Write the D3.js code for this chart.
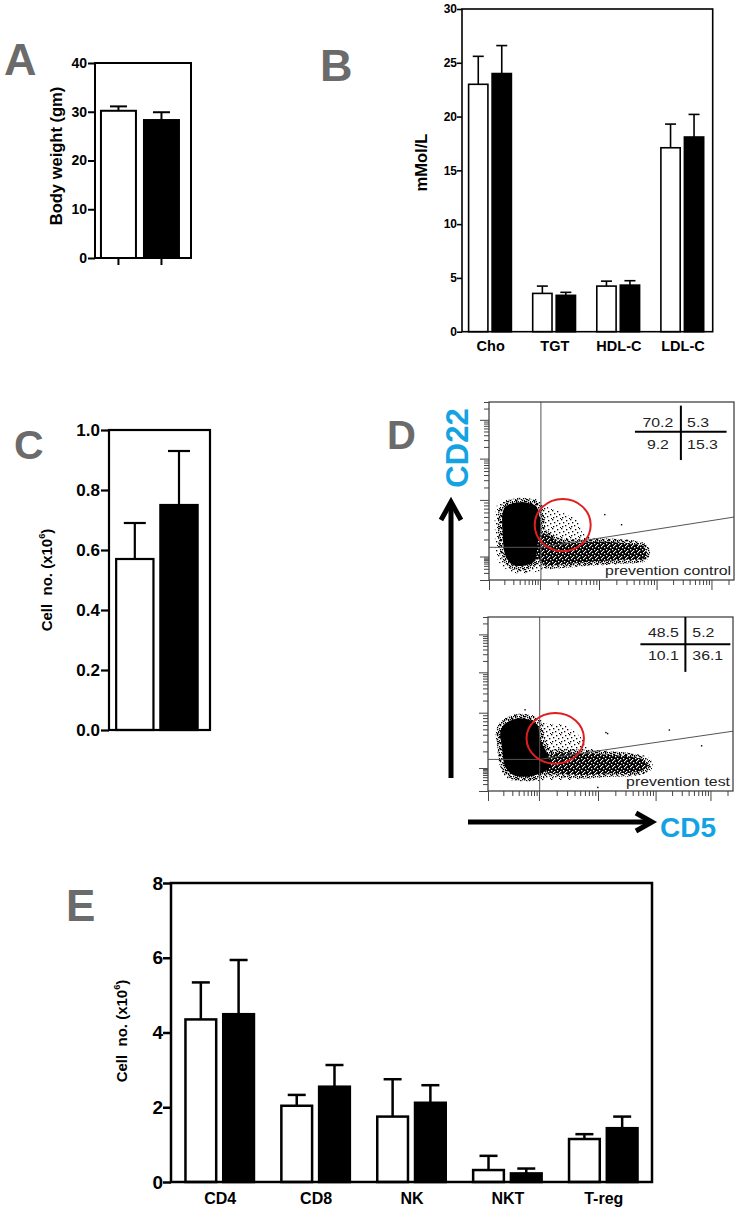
<!DOCTYPE html>
<html>
<head>
<meta charset="utf-8">
<script src="https://cdn.jsdelivr.net/npm/d3@7"></script>
<style>
body { margin: 0; background: #fff; }
svg text { font-family: Arial, "Liberation Sans", Helvetica, sans-serif; }
</style>
</head>
<body>
<script>
// ---- data ----
var groups = ["control", "test"];

// A: body weight
var weightMean = [30.2, 28.3],
    weightErr = [0.9, 1.6],
    weightTicks = [0, 10, 20, 30, 40];

// B: lipids
var lipidCats = ["Cho", "TGT", "HDL-C", "LDL-C"],
    lipidControl = [23.0, 3.56, 4.24, 17.1],
    lipidControlErr = [2.6, 0.68, 0.46, 2.2],
    lipidTest = [24.0, 3.38, 4.33, 18.1],
    lipidTestErr = [2.6, 0.28, 0.41, 2.1],
    lipidTicks = [0, 5, 10, 15, 20, 25, 30];

// C: B1a cell number
var cellMean = [0.57, 0.75],
    cellErr = [0.12, 0.18],
    cellTicks = [0, 0.2, 0.4, 0.6, 0.8, 1.0];

// E: lymphocyte subsets
var subsetCats = ["CD4", "CD8", "NK", "NKT", "T-reg"],
    subsetControl = [4.35, 2.04, 1.75, 0.32, 1.15],
    subsetControlErr = [0.99, 0.29, 1.0, 0.38, 0.13],
    subsetTest = [4.49, 2.55, 2.12, 0.23, 1.44],
    subsetTestErr = [1.45, 0.58, 0.47, 0.13, 0.31],
    subsetTicks = [0, 2, 4, 6, 8];

// D: flow plots, shapes in channel units (0-1024)
var flowXDomain = [1, 10, 100, 1000, 10000, 25000],
    flowXFrac = [0, 0.208, 0.449, 0.684, 0.908, 1],
    flowYDomain = [1, 10, 100, 1000, 10000, 30000],
    flowYFrac = [0, 0.132, 0.45, 0.682, 0.9, 1],
    flowDecades = [1, 10, 100, 1000, 10000],
    flowMinor = [2, 3, 4, 5, 6, 7, 8, 9];

var topCore = [[63,412],[102,441],[158,445],[196,426],[210,374],[216,288],[205,220],[199,150],[190,110],[158,86],[102,86],[71,134],[57,268]],
    topTail = [[220,268],[297,220],[380,215],[450,220],[548,215],[645,192],[659,157],[645,125],[548,115],[436,106],[325,92],[227,92],[200,150]],
    topFringe = [[39,441],[130,464],[199,464],[241,422],[297,393],[367,345],[394,268],[464,230],[576,230],[659,201],[670,153],[659,115],[548,92],[408,80],[297,67],[199,48],[102,42],[39,106],[25,268]],
    topStray = [[481,380],[551,322],[39,215],[150,53]],
    topGate = [217, 188, 362],
    topCircle = [308, 316, 117, 150],
    topQuadLines = [[[802,1003],[802,690]], [[610,853],[993,853]]],
    topQuadText = ["70.2", "5.3", "9.2", "15.3"],
    topQuadPos = [706, 828, 882, 754],
    topName = "prevention control";

var botCore = [[65,388],[121,427],[177,417],[207,388],[219,300],[247,222],[260,143],[219,104],[163,84],[107,94],[72,143],[58,260],[51,339]],
    botTail = [[260,212],[400,222],[511,212],[595,202],[650,182],[665,143],[623,113],[511,104],[400,94],[288,104],[247,113]],
    botFringe = [[44,378],[107,447],[184,447],[247,398],[316,388],[386,319],[414,260],[469,241],[595,222],[678,192],[686,133],[637,94],[469,84],[344,65],[247,65],[163,55],[79,75],[51,143],[38,300]],
    botStray = [[152,482],[490,348],[497,342],[755,363],[890,270],[456,25]],
    botGate = [216, 186, 352],
    botCircle = [281, 310, 120, 149],
    botQuadLines = [[[825,1024],[825,701]], [[637,864],[1013,864]]],
    botQuadText = ["48.5", "5.2", "10.1", "36.1"],
    botQuadPos = [733, 854, 905, 770],
    botName = "prevention test";

// ---- drawing ----
var svg = d3.select("body").append("svg")
    .attr("width", 739)
    .attr("height", 1210);

function panelLetter(t, x, y, size){
    svg.append("text")
        .attr("x", x).attr("y", y)
        .attr("font-size", size)
        .attr("font-weight", "bold")
        .attr("fill", "#6b6b6b")
        .text(t);
}

function yLabel(g, x, y, size, main, sup){
    var t = g.append("text")
        .attr("transform", "translate(" + x + "," + y + ") rotate(-90)")
        .attr("text-anchor", "middle")
        .attr("font-size", size)
        .attr("font-weight", "bold")
        .style("white-space", "pre");
    t.append("tspan").text(main);
    if (sup){
        t.append("tspan").attr("font-size", size * 0.62).attr("dy", -size * 0.42).text(sup);
        t.append("tspan").attr("dy", size * 0.42).text(")");
    }
}

//left axis + frame box
function frameAxis(g, y, w, h, ticks, fmt, o){
    var axis = g.append("g")
        .call(d3.axisLeft(y).tickValues(ticks).tickFormat(fmt).tickSize(o.tick).tickPadding(o.pad));
    axis.select(".domain").remove();
    axis.selectAll("line").attr("stroke", "#000").attr("stroke-width", o.sw);
    axis.selectAll("text")
        .attr("font-size", o.font)
        .attr("font-weight", "bold")
        .attr("fill", "#000");
    g.append("rect")
        .attr("width", w).attr("height", h)
        .attr("fill", "none")
        .attr("stroke", "#000")
        .attr("stroke-width", o.sw);
}

//bars with upward error bars; items: {x, w, v, e, fill}
function drawBars(g, y, items, capW, sw){
    g.selectAll(".bar").data(items).enter()
        .append("rect")
        .attr("class", "bar")
        .attr("x", function(d){ return d.x + sw / 2; })
        .attr("width", function(d){ return d.w - sw; })
        .attr("y", function(d){ return y(d.v); })
        .attr("height", function(d){ return y(0) - y(d.v); })
        .attr("fill", function(d){ return d.fill; })
        .attr("stroke", "#000")
        .attr("stroke-width", sw);
    g.selectAll(".errv").data(items).enter()
        .append("line")
        .attr("x1", function(d){ return d.x + d.w / 2; })
        .attr("x2", function(d){ return d.x + d.w / 2; })
        .attr("y1", function(d){ return y(d.v); })
        .attr("y2", function(d){ return y(d.v + d.e); })
        .attr("stroke", "#000").attr("stroke-width", sw);
    g.selectAll(".errc").data(items).enter()
        .append("line")
        .attr("x1", function(d){ return d.x + d.w / 2 - capW / 2; })
        .attr("x2", function(d){ return d.x + d.w / 2 + capW / 2; })
        .attr("y1", function(d){ return y(d.v + d.e); })
        .attr("y2", function(d){ return y(d.v + d.e); })
        .attr("stroke", "#000").attr("stroke-width", sw);
}

var fills = ["#fff", "#000"];

// ---- panel A ----
(function(){
    var w = 96, h = 195;
    var g = svg.append("g").attr("transform", "translate(95,63)");
    var x = d3.scaleBand().domain(groups).range([0, w])
        .paddingInner(0.14).paddingOuter(0.186).align(0.31);
    var y = d3.scaleLinear().domain([0, 40]).range([h, 0]);
    var items = groups.map(function(k, i){
        return {x: x(k), w: x.bandwidth(), v: weightMean[i], e: weightErr[i], fill: fills[i]};
    });
    drawBars(g, y, items, 17, 2);
    frameAxis(g, y, w, h, weightTicks, d3.format("d"), {tick: 7, pad: 1, sw: 2, font: 14});
    var xa = g.append("g").attr("transform", "translate(0," + h + ")")
        .call(d3.axisBottom(x).tickSize(7).tickFormat(""));
    xa.select(".domain").remove();
    xa.selectAll("line").attr("stroke", "#000").attr("stroke-width", 2);
    yLabel(svg, 61.5, 156, 16.5, "Body weight (gm)");
    panelLetter("A", 4, 75, 45);
})();

// ---- panel B ----
(function(){
    var w = 250.7, h = 322.7;
    var g = svg.append("g").attr("transform", "translate(462,9)");
    var x = d3.scalePoint().domain(lipidCats).range([0, w - 2]).padding(0.44);
    var sub = d3.scaleBand().domain(groups).range([-22.4, 22]).paddingInner(0.11);
    var y = d3.scaleLinear().domain([0, 30]).range([h, 0]);
    var items = [];
    lipidCats.forEach(function(c, i){
        items.push({x: x(c) + sub("control"), w: sub.bandwidth(), v: lipidControl[i], e: lipidControlErr[i], fill: fills[0]});
        items.push({x: x(c) + sub("test"), w: sub.bandwidth(), v: lipidTest[i], e: lipidTestErr[i], fill: fills[1]});
    });
    drawBars(g, y, items, 11, 1.6);
    frameAxis(g, y, w, h, lipidTicks, d3.format("d"), {tick: 5, pad: 0, sw: 1.6, font: 12});
    var xa = g.append("g").attr("transform", "translate(0," + h + ")")
        .call(d3.axisBottom(x).tickSize(0));
    xa.select(".domain").remove();
    xa.selectAll("text").attr("dy", null).attr("y", 19)
        .attr("font-size", 14.5).attr("font-weight", "bold").attr("fill", "#000");
    yLabel(svg, 426.5, 162.5, 16.5, "mMol/L");
    panelLetter("B", 320, 81, 45);
})();

// ---- panel C ----
(function(){
    var w = 101, h = 300;
    var g = svg.append("g").attr("transform", "translate(109,430)");
    var x = d3.scaleBand().domain(groups).range([0, w])
        .paddingInner(0.106).paddingOuter(0.196).align(0.35);
    var y = d3.scaleLinear().domain([0, 1]).range([h, 0]);
    var items = groups.map(function(k, i){
        return {x: x(k), w: x.bandwidth(), v: cellMean[i], e: cellErr[i], fill: fills[i]};
    });
    drawBars(g, y, items, 22, 2.2);
    frameAxis(g, y, w, h, cellTicks, d3.format(".1f"), {tick: 8, pad: 1, sw: 2.2, font: 17});
    yLabel(svg, 51.5, 580, 15, "Cell  no. (x10", "6");
    panelLetter("C", 14, 459, 41);
})();

// ---- panel E ----
(function(){
    var w = 481, h = 299;
    var g = svg.append("g").attr("transform", "translate(171,883)");
    var x = d3.scalePoint().domain(subsetCats).range([0, w]).padding(0.508);
    var sub = d3.scaleBand().domain(groups).range([-35.5, 35.5]).paddingInner(0.12);
    var y = d3.scaleLinear().domain([0, 8]).range([h, 0]);
    var items = [];
    subsetCats.forEach(function(c, i){
        items.push({x: x(c) + sub("control"), w: sub.bandwidth(), v: subsetControl[i], e: subsetControlErr[i], fill: fills[0]});
        items.push({x: x(c) + sub("test"), w: sub.bandwidth(), v: subsetTest[i], e: subsetTestErr[i], fill: fills[1]});
    });
    drawBars(g, y, items, 18, 2.5);
    frameAxis(g, y, w, h, subsetTicks, d3.format("d"), {tick: 8, pad: 0, sw: 2.5, font: 19});
    var xa = g.append("g").attr("transform", "translate(0," + h + ")")
        .call(d3.axisBottom(x).tickSize(0));
    xa.select(".domain").remove();
    xa.selectAll("text").attr("dy", null).attr("y", 22)
        .attr("font-size", 16).attr("font-weight", "bold").attr("fill", "#000");
    yLabel(svg, 126.5, 1031, 15, "Cell  no. (x10", "6");
    panelLetter("E", 66, 921, 44);
})();

// ---- panel D ----
var defs = svg.append("defs");

//dot textures for the event clouds
function dotPattern(id, size, bg, dots, col){
    var p = defs.append("pattern").attr("id", id)
        .attr("patternUnits", "userSpaceOnUse").attr("width", size).attr("height", size);
    if (bg) p.append("rect").attr("width", size).attr("height", size).attr("fill", bg);
    dots.forEach(function(d){
        p.append("rect").attr("x", d[0]).attr("y", d[1])
            .attr("width", 1.3).attr("height", 1.3).attr("fill", col);
    });
}
dotPattern("sparse", 9, null, [[0,0],[5,1],[2,3],[7,4],[4,6],[1,7],[8,8]], "#000");
dotPattern("medium", 6, null, [[0,0],[2,1],[4,0],[1,3],[3,2],[5,3],[0,5],[3,4],[5,5]], "#000");
dotPattern("dense", 6, "#000", [[1,1],[4,0],[3,3],[0,4],[5,5]], "#fff");

function flowText(g, x, y, str, anchor){
    g.append("text")
        .attr("transform", "translate(" + x + "," + y + ") scale(1.32,1)")
        .attr("text-anchor", anchor)
        .attr("font-size", 12)
        .attr("fill", "#222")
        .text(str);
}

function flowPlot(box, d){
    var w = box.w, h = box.h;
    var g = svg.append("g").attr("transform", "translate(" + box.x + "," + box.y + ")");
    var xc = d3.scaleLinear().domain([0, 1024]).range([0, w]);
    var yc = d3.scaleLinear().domain([0, 1024]).range([h, 0]);
    var xl = d3.scaleLog().domain(flowXDomain).range(flowXFrac.map(function(f){ return f * w; }));
    var yl = d3.scaleLog().domain(flowYDomain).range(flowYFrac.map(function(f){ return h - f * h; }));

    var minorX = [], minorY = [];
    flowDecades.forEach(function(dec){
        flowMinor.forEach(function(m){
            if (dec * m <= flowXDomain[flowXDomain.length - 1]) minorX.push(dec * m);
            if (dec * m <= flowYDomain[flowYDomain.length - 1]) minorY.push(dec * m);
        });
    });

    [[flowDecades, 9], [minorY, 5]].forEach(function(t){
        var a = g.append("g").call(d3.axisLeft(yl).tickValues(t[0]).tickSize(t[1]).tickFormat(""));
        a.select(".domain").remove();
        a.selectAll("line").attr("stroke", "#444").attr("stroke-width", 1);
    });
    [[flowDecades, 10], [minorX, 5]].forEach(function(t){
        var a = g.append("g").attr("transform", "translate(0," + h + ")")
            .call(d3.axisBottom(xl).tickValues(t[0]).tickSize(t[1]).tickFormat(""));
        a.select(".domain").remove();
        a.selectAll("line").attr("stroke", "#444").attr("stroke-width", 1);
    });

    var shape = d3.line()
        .x(function(p){ return xc(p[0]); })
        .y(function(p){ return yc(p[1]); })
        .curve(d3.curveCatmullRomClosed);

    g.append("path").attr("d", shape(d.fringe)).attr("fill", "url(#sparse)");
    //speckled halo behind the dense parts
    g.append("path").attr("d", shape(d.tail))
        .attr("fill", "none").attr("stroke", "url(#medium)").attr("stroke-width", 7);
    g.append("path").attr("d", shape(d.core))
        .attr("fill", "none").attr("stroke", "url(#medium)").attr("stroke-width", 9);
    g.append("path").attr("d", shape(d.tail)).attr("fill", "url(#dense)");
    g.append("path").attr("d", shape(d.core)).attr("fill", "#000");
    g.selectAll(".stray").data(d.stray).enter().append("rect")
        .attr("x", function(p){ return xc(p[0]); })
        .attr("y", function(p){ return yc(p[1]); })
        .attr("width", 1.4).attr("height", 1.4).attr("fill", "#000");

    //gates
    var gateStyle = function(s){ s.attr("stroke", "#555").attr("stroke-width", 1).attr("fill", "none"); };
    g.append("line").attr("x1", xc(d.gate[0])).attr("x2", xc(d.gate[0]))
        .attr("y1", yc(0)).attr("y2", yc(1024)).call(gateStyle);
    g.append("line").attr("x1", xc(0)).attr("x2", xc(d.gate[0]))
        .attr("y1", yc(d.gate[1])).attr("y2", yc(d.gate[1])).call(gateStyle);
    g.append("line").attr("x1", xc(d.gate[0])).attr("x2", xc(1024))
        .attr("y1", yc(d.gate[1])).attr("y2", yc(d.gate[2])).call(gateStyle);

    g.append("ellipse")
        .attr("cx", xc(d.circle[0])).attr("cy", yc(d.circle[1]))
        .attr("rx", xc(d.circle[2]) - xc(0)).attr("ry", yc(0) - yc(d.circle[3]))
        .attr("fill", "none").attr("stroke", "#e01e1e").attr("stroke-width", 2);

    g.append("rect").attr("width", w).attr("height", h)
        .attr("fill", "none").attr("stroke", "#444").attr("stroke-width", 1.3);

    //quadrant statistics
    d.quadLines.forEach(function(l){
        g.append("line")
            .attr("x1", xc(l[0][0])).attr("y1", yc(l[0][1]))
            .attr("x2", xc(l[1][0])).attr("y2", yc(l[1][1]))
            .attr("stroke", "#000").attr("stroke-width", 2);
    });
    var q = d.quadPos;
    flowText(g, xc(q[0]), yc(q[2]), d.quadText[0], "middle");
    flowText(g, xc(q[1]), yc(q[2]), d.quadText[1], "start");
    flowText(g, xc(q[0]), yc(q[3]), d.quadText[2], "middle");
    flowText(g, xc(q[1]), yc(q[3]), d.quadText[3], "start");
    flowText(g, w - 3, h - 5, d.name, "end");
}

var flowTopBox = {x: 489, y: 402, w: 245, h: 178},
    flowBotBox = {x: 488, y: 617, w: 245, h: 174};

flowPlot(flowTopBox, {core: topCore, tail: topTail, fringe: topFringe, stray: topStray,
    gate: topGate, circle: topCircle, quadLines: topQuadLines, quadText: topQuadText,
    quadPos: topQuadPos, name: topName});
flowPlot(flowBotBox, {core: botCore, tail: botTail, fringe: botFringe, stray: botStray,
    gate: botGate, circle: botCircle, quadLines: botQuadLines, quadText: botQuadText,
    quadPos: botQuadPos, name: botName});

//axis arrows and marker names
var arrowX = flowTopBox.x - 38,
    arrowY = flowBotBox.y + flowBotBox.h + 31;
svg.append("line").attr("x1", arrowX).attr("x2", arrowX)
    .attr("y1", flowTopBox.y + 100).attr("y2", flowBotBox.y + flowBotBox.h - 13)
    .attr("stroke", "#000").attr("stroke-width", 5);
svg.append("path")
    .attr("d", "M" + (arrowX - 10) + "," + (flowTopBox.y + 118) + "L" + arrowX + "," + (flowTopBox.y + 100) +
        "L" + (arrowX + 10) + "," + (flowTopBox.y + 118))
    .attr("fill", "none").attr("stroke", "#000").attr("stroke-width", 5);
svg.append("line").attr("x1", flowTopBox.x - 21).attr("x2", flowTopBox.x + 162)
    .attr("y1", arrowY).attr("y2", arrowY)
    .attr("stroke", "#000").attr("stroke-width", 5);
svg.append("path")
    .attr("d", "M" + (flowTopBox.x + 147) + "," + (arrowY - 9) + "L" + (flowTopBox.x + 163) + "," + arrowY +
        "L" + (flowTopBox.x + 147) + "," + (arrowY + 9))
    .attr("fill", "none").attr("stroke", "#000").attr("stroke-width", 5);

svg.append("text")
    .attr("transform", "translate(" + (arrowX + 16.5) + ",448) rotate(-90)")
    .attr("text-anchor", "middle")
    .attr("font-size", 31).attr("font-weight", "bold")
    .attr("fill", "#14a3e2")
    .text("CD22");
svg.append("text")
    .attr("x", flowTopBox.x + 171).attr("y", arrowY + 15)
    .attr("font-size", 28).attr("font-weight", "bold")
    .attr("fill", "#14a3e2")
    .text("CD5");

panelLetter("D", 387, 449, 40);
</script>
</body>
</html>
